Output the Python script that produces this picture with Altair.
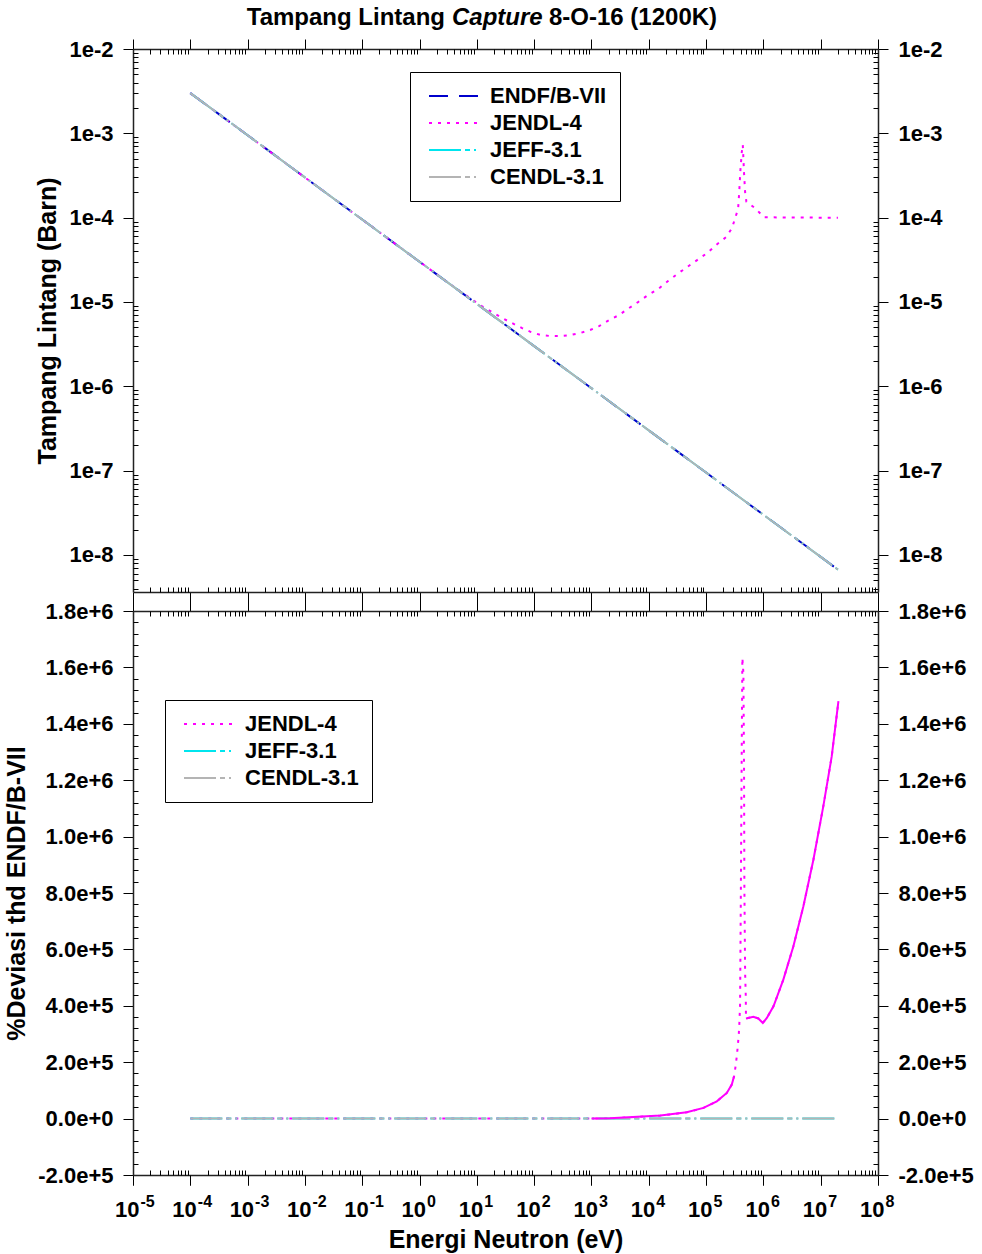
import altair as alt
import pandas as pd

FONT = "Liberation Sans"

# ---------------- text ----------------
title_parts = ["Tampang Lintang", "Capture", "8-O-16 (1200K)"]
y_title_top = "Tampang Lintang (Barn)"
y_title_bottom = "%Deviasi thd ENDF/B-VII"
x_title = "Energi Neutron (eV)"

# ---------------- series styling ----------------
top_names = ["ENDF/B-VII", "JENDL-4", "JEFF-3.1", "CENDL-3.1"]
top_colors = ["#0000CC", "#FF00FF", "#00E5EE", "#B4B4B4"]
top_dashes = [[19, 11], [3, 6], [32, 4, 5, 4, 2, 4], [32, 4, 5, 4, 2, 4]]

bot_names = ["JENDL-4", "JEFF-3.1", "CENDL-3.1"]
bot_colors = ["#FF00FF", "#00E5EE", "#B4B4B4"]
bot_dashes = [[3, 6], [32, 4, 5, 4, 2, 4], [32, 4, 5, 4, 2, 4]]

# ---------------- top panel data: cross section (barn) ----------------
endf_energy = [1e-4, 1e-3, 1e-2, 1e-1, 1, 10, 100, 1e3, 1e4, 1e5, 1e6, 1e7, 2e7]
endf_xs = [3.0e-3, 9.5e-4, 3.0e-4, 9.5e-5, 3.0e-5, 9.5e-6, 3.0e-6, 9.5e-7,
           3.0e-7, 9.5e-8, 3.0e-8, 9.5e-9, 6.7e-9]
jeff_energy = [1e-4, 1e-3, 1e-2, 1e-1, 1, 10, 100, 1e3, 1e4, 1e5, 1e6, 1e7, 2e7]
jeff_xs = [3.0e-3, 9.5e-4, 3.0e-4, 9.5e-5, 3.0e-5, 9.5e-6, 3.0e-6, 9.5e-7,
           3.0e-7, 9.5e-8, 3.0e-8, 9.5e-9, 6.7e-9]
cendl_energy = [1e-4, 1e-3, 1e-2, 1e-1, 1, 10, 100, 1e3, 1e4, 1e5, 1e6, 1e7, 2e7]
cendl_xs = [3.0e-3, 9.5e-4, 3.0e-4, 9.5e-5, 3.0e-5, 9.5e-6, 3.0e-6, 9.5e-7,
            3.0e-7, 9.5e-8, 3.0e-8, 9.5e-9, 6.7e-9]
jendl_energy = [1e-4, 1e-3, 1e-2, 1e-1, 1, 5, 12.2, 18.4, 27.5, 41.1, 61.7, 88.3,
                132, 197, 283, 424, 631, 948, 1.36e3, 2.04e3, 3.02e3, 4.53e3,
                6.5e3, 9.73e3, 1.45e4, 2.17e4, 3.12e4, 4.66e4, 6.97e4, 1.04e5,
                1.49e5, 2.24e5, 2.84e5, 3.21e5, 3.62e5, 3.80e5, 3.96e5, 4.2e5,
                4.37e5, 4.6e5, 4.8e5, 5.05e5, 7.24e5, 1.02e6, 1e7, 2e7]
jendl_xs = [3.0e-3, 9.5e-4, 3.0e-4, 9.5e-5, 3.0e-5, 1.35e-5, 8.93e-6, 7.59e-6,
            6.46e-6, 5.62e-6, 4.9e-6, 4.4e-6, 4.05e-6, 3.94e-6, 3.94e-6, 4.05e-6,
            4.28e-6, 4.65e-6, 5.18e-6, 6.1e-6, 7.0e-6, 8.47e-6, 9.98e-6, 1.21e-5,
            1.42e-5, 1.77e-5, 2.14e-5, 2.59e-5, 3.14e-5, 3.8e-5, 4.73e-5, 5.89e-5,
            7.53e-5, 9.89e-5, 1.26e-4, 2.08e-4, 3.54e-4, 6.0e-4, 7.33e-4, 3.35e-4,
            2.01e-4, 1.55e-4, 1.29e-4, 1.01e-4, 1.0e-4, 1.0e-4]

# ---------------- bottom panel data: % deviation vs ENDF/B-VII ----------------
dev_jendl_energy = [1e-4, 1e-2, 1, 10, 100, 1e3, 2.1e3, 1.6e4, 4.6e4, 9.0e4, 1.54e5,
                    2.3e5, 2.81e5, 3.08e5, 3.24e5, 3.44e5, 3.57e5, 3.72e5, 3.81e5,
                    3.92e5, 4.03e5, 4.2e5, 4.3e5, 4.48e5, 4.6e5, 4.66e5, 4.8e5,
                    4.93e5, 4.97e5, 6.68e5, 8.17e5, 9.77e5, 1.15e6, 1.5e6, 2.23e6,
                    3.34e6, 4.99e6, 7.46e6, 1.11e7, 1.56e7, 2.04e7]
dev_jendl = [0, 0, 0, 0, 30, 400, 1.0e3, 1.06e4, 2.23e4, 3.79e4, 6.13e4,
             9.11e4, 1.206e5, 1.5e5, 1.8e5, 2.21e5, 2.56e5, 2.98e5, 3.39e5,
             4.04e5, 7.53e5, 1.34e6, 1.634e6, 1.58e6, 1.23e6, 8.24e5, 5.17e5,
             4.34e5, 3.55e5, 3.61e5, 3.55e5, 3.39e5, 3.57e5, 3.98e5, 4.93e5,
             6.11e5, 7.53e5, 9.18e5, 1.107e6, 1.285e6, 1.48e6]
dev_jeff_energy = [1e-4, 1e-2, 1, 100, 1e4, 1e6, 2e7]
dev_jeff = [0, 0, 0, 0, 0, 0, 0]
dev_cendl_energy = [1e-4, 1e-2, 1, 100, 1e4, 1e6, 2e7]
dev_cendl = [0, 0, 0, 0, 0, 0, 0]

# ---------------- ticks ----------------
x_domain = [1e-5, 1e8]
top_y_domain = [3.64e-9, 1e-2]
bot_y_domain = [-2e5, 1.8e6]
x_major = [10.0 ** k for k in range(-5, 9)]
x_minor = [m * 10.0 ** k for k in range(-5, 8) for m in range(2, 10)]
top_y_major = [10.0 ** k for k in range(-8, -1)]
top_y_minor = [m * 10.0 ** k for k in range(-9, -2) for m in range(2, 10)
               if top_y_domain[0] <= m * 10.0 ** k <= top_y_domain[1]]
bot_y_major = [v * 1e5 for v in range(-2, 19, 2)]
bot_y_minor = [v * 4e4 for v in range(-5, 46) if v % 5 != 0]

W = 745
H_TOP = 543
H_BOT = 564
LABEL_SIZE = 22


def frame(names, energies, values):
    return pd.concat(
        [pd.DataFrame({"energy": e, "value": v, "series": n})
         for n, e, v in zip(names, energies, values)],
        ignore_index=True,
    )


top_df = frame(top_names, [endf_energy, jendl_energy, jeff_energy, cendl_energy],
               [endf_xs, jendl_xs, jeff_xs, cendl_xs])
bot_df = frame(bot_names, [dev_jendl_energy, dev_jeff_energy, dev_cendl_energy],
               [dev_jendl, dev_jeff, dev_cendl])


def major_axis(orient, values, labels=False, title=None, label_expr=None, **extra):
    kw = dict(orient=orient, values=values, tickSize=10, labels=labels,
              domain=True, domainColor="#222222", domainWidth=1.5,
              tickColor="black", tickWidth=1, grid=False, labelPadding=10,
              labelOverlap=False, labelBound=False,
              title=title, titlePadding=8)
    if label_expr is not None:
        kw["labelExpr"] = label_expr
    kw.update(extra)
    return alt.Axis(**kw)


def minor_axis(orient, values):
    return alt.Axis(orient=orient, values=values, tickSize=5, offset=-5,
                    labels=False, domain=False, tickColor="black", tickWidth=1,
                    grid=False, title=None)


SYMBOL = "M-1,0L9,0"


def make_legend(lx, ly):
    return alt.Legend(orient="none", legendX=lx, legendY=ly, title=None,
                      symbolType=SYMBOL, symbolSize=100, symbolStrokeWidth=2,
                      labelOffset=45, padding=13, rowPadding=5,
                      strokeColor="black", fillColor="white",
                      labelFont=FONT, labelFontSize=22, labelFontWeight="bold",
                      labelColor="black")


top_legend = make_legend(277, 23)
bot_legend = make_legend(32, 89)

xscale = alt.Scale(type="log", domain=x_domain, nice=False)
top_yscale = alt.Scale(type="log", domain=top_y_domain, nice=False)
bot_yscale = alt.Scale(domain=bot_y_domain, nice=False, zero=False)

top_cscale = alt.Scale(domain=top_names, range=top_colors)
top_dscale = alt.Scale(domain=top_names, range=top_dashes)
bot_cscale = alt.Scale(domain=bot_names, range=bot_colors)
bot_dscale = alt.Scale(domain=bot_names, range=bot_dashes)

log_label = "'1e' + round(log(datum.value) / LN10)"
exp_label = "replace(format(datum.value, '.1e'), '\u2212', '-')"
base_label = "'10'"
power_label = "'' + round(log(datum.value) / LN10)"


def series_line(df, name, xaxis, yaxis, yscale, cscale, dscale, legend):
    return alt.Chart(df).transform_filter(alt.datum.series == name).mark_line(
        strokeWidth=2
    ).encode(
        x=alt.X("energy:Q", scale=xscale, axis=xaxis),
        y=alt.Y("value:Q", scale=yscale, axis=yaxis),
        color=alt.Color("series:N", scale=cscale, legend=legend),
        strokeDash=alt.StrokeDash("series:N", scale=dscale, legend=legend),
    )


# ---------------- top panel ----------------
t1 = series_line(top_df, top_names[0],
                 major_axis("bottom", x_major),
                 major_axis("left", top_y_major, labels=True, title=y_title_top,
                            label_expr=log_label),
                 top_yscale, top_cscale, top_dscale, top_legend)
t2 = series_line(top_df, top_names[1],
                 minor_axis("bottom", x_minor), minor_axis("left", top_y_minor),
                 top_yscale, top_cscale, top_dscale, top_legend)
t3 = series_line(top_df, top_names[2],
                 major_axis("top", x_major),
                 major_axis("right", top_y_major, labels=True, label_expr=log_label),
                 top_yscale, top_cscale, top_dscale, top_legend)
t4 = series_line(top_df, top_names[3],
                 minor_axis("top", x_minor), minor_axis("right", top_y_minor),
                 top_yscale, top_cscale, top_dscale, top_legend)

title_df = pd.DataFrame({"t": title_parts})
title_style = dict(font=FONT, fontSize=24, fontWeight="bold", color="black",
                   baseline="middle")
tt1 = alt.Chart(title_df).transform_filter(alt.datum.t == title_parts[0]).mark_text(
    align="right", **title_style).encode(text="t:N", x=alt.value(312), y=alt.value(-31))
tt2 = alt.Chart(title_df).transform_filter(alt.datum.t == title_parts[1]).mark_text(
    align="left", fontStyle="italic", **title_style).encode(
    text="t:N", x=alt.value(319), y=alt.value(-31))
tt3 = alt.Chart(title_df).transform_filter(alt.datum.t == title_parts[2]).mark_text(
    align="left", **title_style).encode(text="t:N", x=alt.value(416), y=alt.value(-31))

top = alt.layer(t1, t2, t3, t4, tt1, tt2, tt3).resolve_axis(
    x="independent", y="independent").properties(width=W, height=H_TOP)

# ---------------- bottom panel ----------------
b1 = series_line(bot_df, bot_names[0],
                 major_axis("bottom", x_major, labels=True, title=x_title,
                            label_expr=base_label, labelAlign="right",
                            labelOffset=6, labelPadding=14, titlePadding=7),
                 major_axis("left", bot_y_major, labels=True, title=y_title_bottom,
                            label_expr=exp_label),
                 bot_yscale, bot_cscale, bot_dscale, bot_legend)
b2 = series_line(bot_df, bot_names[1],
                 minor_axis("bottom", x_minor), minor_axis("left", bot_y_minor),
                 bot_yscale, bot_cscale, bot_dscale, bot_legend)
b3 = series_line(bot_df, bot_names[2],
                 major_axis("top", x_major),
                 major_axis("right", bot_y_major, labels=True, label_expr=exp_label),
                 bot_yscale, bot_cscale, bot_dscale, bot_legend)


def solid_part(lo, hi, xaxis, yaxis):
    return alt.Chart(bot_df).transform_filter(
        (alt.datum.series == bot_names[0]) & (alt.datum.energy >= lo) & (alt.datum.energy <= hi)
    ).mark_line(strokeWidth=2, color=bot_colors[0]).encode(
        x=alt.X("energy:Q", scale=xscale, axis=xaxis),
        y=alt.Y("value:Q", scale=bot_yscale, axis=yaxis),
    )


power_axis = alt.Axis(orient="bottom", values=x_major, tickSize=10, ticks=True,
                      tickColor="black", domain=False, grid=False, title=None,
                      labels=True, labelExpr=power_label, labelAlign="left",
                      labelOffset=7, labelPadding=8, labelFontSize=16,
                      labelOverlap=False, labelBound=False)

b4 = solid_part(1e3, 3.08e5, minor_axis("top", x_minor), minor_axis("right", bot_y_minor))
b5 = solid_part(4.97e5, 2.1e7, power_axis, None)

bottom = alt.layer(b1, b2, b3, b4, b5).resolve_axis(
    x="independent", y="independent").properties(width=W, height=H_BOT)

chart = alt.vconcat(top, bottom, spacing=19, bounds="flush").resolve_scale(
    color="independent", strokeDash="independent"
).properties(
    padding={"left": 4, "top": 6, "right": 5, "bottom": 3}
).configure_view(strokeWidth=0).configure_axis(
    labelFont=FONT, labelFontSize=LABEL_SIZE, labelFontWeight="bold", labelColor="black",
    titleFont=FONT, titleFontSize=25, titleFontWeight="bold", titleColor="black",
)

chart.save("out.html", embed_options={"renderer": "svg", "actions": False})
